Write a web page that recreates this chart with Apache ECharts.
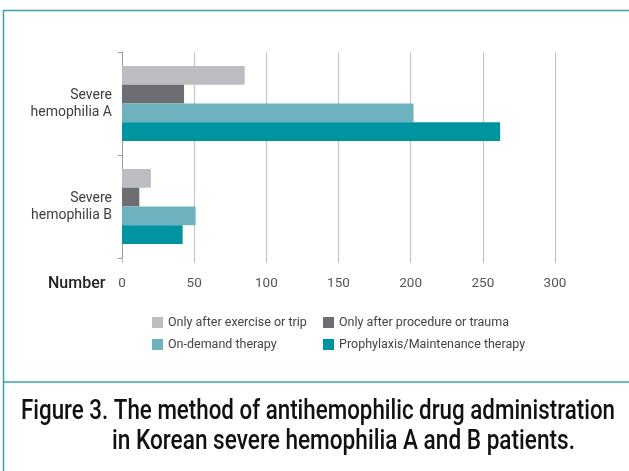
<!DOCTYPE html>
<html>
<head>
<meta charset="utf-8">
<script src="https://cdn.jsdelivr.net/npm/echarts@6/dist/echarts.min.js"></script>
<style>
  html, body { margin: 0; padding: 0; background: #fff; }
  #chart { width: 629px; height: 471px; }
</style>
</head>
<body>
<div id="chart"></div>
<script>
// Patient groups shown on the vertical axis
const categories = ['Severe\nhemophilia A', 'Severe\nhemophilia B'];

// Number of patients per administration method
const seriesNames = [
  'Only after exercise or trip',
  'Only after procedure or trauma',
  'On-demand therapy',
  'Prophylaxis/Maintenance therapy'
];
const exerciseOrTrip = [85, 20];
const procedureOrTrauma = [43, 12];
const onDemand = [202, 51];
const prophylaxis = [262, 42];

const xTicks = [0, 50, 100, 150, 200, 250, 300];

const colors = ['#bcbdc1', '#6d6e71', '#6fb2bf', '#0093a0'];
const values = [exerciseOrTrip, procedureOrTrauma, onDemand, prophylaxis];

const chart = echarts.init(document.getElementById('chart'), null, { renderer: 'canvas' });

const font = 'Roboto, "DejaVu Sans", sans-serif';
const frameColor = '#3aa3ad';

// Caption text is drawn horizontally condensed so it reads like a narrow face
function caption(text, x, top, width) {
  return {
    type: 'text', x: x, y: top, silent: true,
    style: {
      text: text, fill: '#111', font: '500 28px Roboto, sans-serif',
      verticalAlign: 'top'
    },
    scaleX: 1, _targetWidth: width
  };
}

const captionLines = [
  caption('Figure 3. The method of antihemophilic drug administration', 21, 398, 594),
  caption('in Korean severe hemophilia A and B patients.', 112, 428, 463)
];

// Fit each caption line to its measured width
const measureCtx = document.createElement('canvas').getContext('2d');
captionLines.forEach(c => {
  measureCtx.font = c.style.font;
  const w = measureCtx.measureText(c.style.text).width;
  c.scaleX = c._targetWidth / w;
  delete c._targetWidth;
});

chart.setOption({
  animation: false,
  backgroundColor: '#ffffff',
  grid: { left: 122, right: 74, top: 52, bottom: 213, containLabel: false },
  xAxis: {
    type: 'value',
    min: xTicks[0],
    max: xTicks[xTicks.length - 1],
    interval: 50,
    axisLine: { show: false },
    axisTick: { show: true, length: 5, lineStyle: { color: '#bdbdbd' } },
    axisLabel: { color: '#555', fontSize: 13.5, fontFamily: font, margin: 19 },
    splitLine: { show: true, lineStyle: { color: '#c2c2c2', width: 1 } }
  },
  yAxis: {
    type: 'category',
    inverse: true,
    data: categories,
    axisLine: { show: true, lineStyle: { color: '#9a9a9a', width: 1 } },
    axisTick: { show: true, length: 4, lineStyle: { color: '#9a9a9a' } },
    axisLabel: {
      color: '#404040', fontSize: 14, fontFamily: font, margin: 10,
      lineHeight: 17, align: 'right'
    }
  },
  legend: [
    {
      left: 147, top: 311, orient: 'vertical', itemGap: 9,
      itemWidth: 11, itemHeight: 11, icon: 'rect',
      textStyle: { color: '#444', fontSize: 12.5, fontFamily: font },
      data: [seriesNames[0], seriesNames[2]]
    },
    {
      left: 318, top: 311, orient: 'vertical', itemGap: 9,
      itemWidth: 11, itemHeight: 11, icon: 'rect',
      textStyle: { color: '#444', fontSize: 12.5, fontFamily: font },
      data: [seriesNames[1], seriesNames[3]]
    }
  ],
  series: seriesNames.map((name, i) => ({
    name: name,
    type: 'bar',
    data: values[i],
    barGap: '0%',
    barCategoryGap: '27%',
    itemStyle: { color: colors[i] }
  })),
  graphic: [
    {
      type: 'rect', silent: true, z: -1,
      shape: { x: 3.5, y: 10.5, width: 640, height: 480 },
      style: { fill: 'none', stroke: frameColor, lineWidth: 1.5 }
    },
    {
      type: 'line', silent: true,
      shape: { x1: 3, y1: 382, x2: 629, y2: 382 },
      style: { stroke: frameColor, lineWidth: 1.5 }
    },
    {
      type: 'text', left: 48, top: 276,
      style: { text: 'Number', fill: '#222', font: '500 16px ' + font }
    }
  ].concat(captionLines)
});
</script>
</body>
</html>
